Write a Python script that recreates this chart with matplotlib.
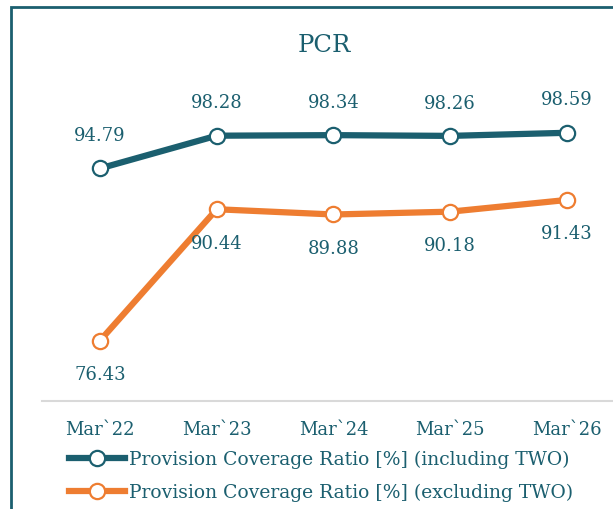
import matplotlib.pyplot as plt
from matplotlib.patches import Rectangle

# data
periods = ["Mar`22", "Mar`23", "Mar`24", "Mar`25", "Mar`26"]
pcr_incl = [94.79, 98.28, 98.34, 98.26, 98.59]
pcr_excl = [76.43, 90.44, 89.88, 90.18, 91.43]
label_incl = "Provision Coverage Ratio [%] (including TWO)"
label_excl = "Provision Coverage Ratio [%] (excluding TWO)"

teal = "#1b5f6f"
orange = "#ee7d31"
font = "DejaVu Serif"
fs = 13

fig = plt.figure(figsize=(6.13, 5.10), dpi=100)
ax = fig.add_axes([0.0679, 0.2118, 0.952, 0.5518])

x = list(range(len(periods)))
ax.plot(x, pcr_incl, color=teal, lw=4.5, marker="o", ms=11,
        mfc="white", mec=teal, mew=1.6, label=label_incl, zorder=3)
ax.plot(x, pcr_excl, color=orange, lw=4.5, marker="o", ms=11,
        mfc="white", mec=orange, mew=1.6, label=label_excl, zorder=3)

# data labels
for i, v in enumerate(pcr_incl):
    ax.annotate(f"{v:.2f}", (i, v), xytext=(0, 24), textcoords="offset points",
                ha="center", va="center", color=teal, fontsize=fs, family=font)
for i, v in enumerate(pcr_excl):
    ax.annotate(f"{v:.2f}", (i, v), xytext=(0, -24), textcoords="offset points",
                ha="center", va="center", color=teal, fontsize=fs, family=font)

ax.set_xlim(-0.5, 4.5)
ax.set_ylim(70, 100)
ax.set_xticks(x)
ax.set_xticklabels(periods, color=teal, fontsize=fs, family=font)
ax.set_yticks([])
ax.tick_params(axis="x", length=0, pad=14)
for s in ["top", "right", "left"]:
    ax.spines[s].set_visible(False)
ax.spines["bottom"].set_color("#d9d9d9")
ax.spines["bottom"].set_linewidth(1.5)
ax.patch.set_visible(False)

# title
fig.text(324 / 613, 1 - 45 / 510, "PCR", ha="center", va="center",
         color=teal, fontsize=17.5, family=font)

# legend
leg = fig.legend(loc="upper left", bbox_to_anchor=(69 / 613, 1 - 451 / 510),
                 frameon=False, prop={"family": font, "size": 13.5},
                 handlelength=3.0, handletextpad=0.2, labelspacing=0.78,
                 borderpad=0, borderaxespad=0)
for t in leg.get_texts():
    t.set_color(teal)

# outer frame
fig.patches.append(Rectangle((11 / 613, -0.1), 1.2, 1 - 8 / 510 + 0.1,
                             transform=fig.transFigure, fill=False,
                             edgecolor=teal, lw=2, zorder=0))

fig.savefig("out.png", dpi=100)
